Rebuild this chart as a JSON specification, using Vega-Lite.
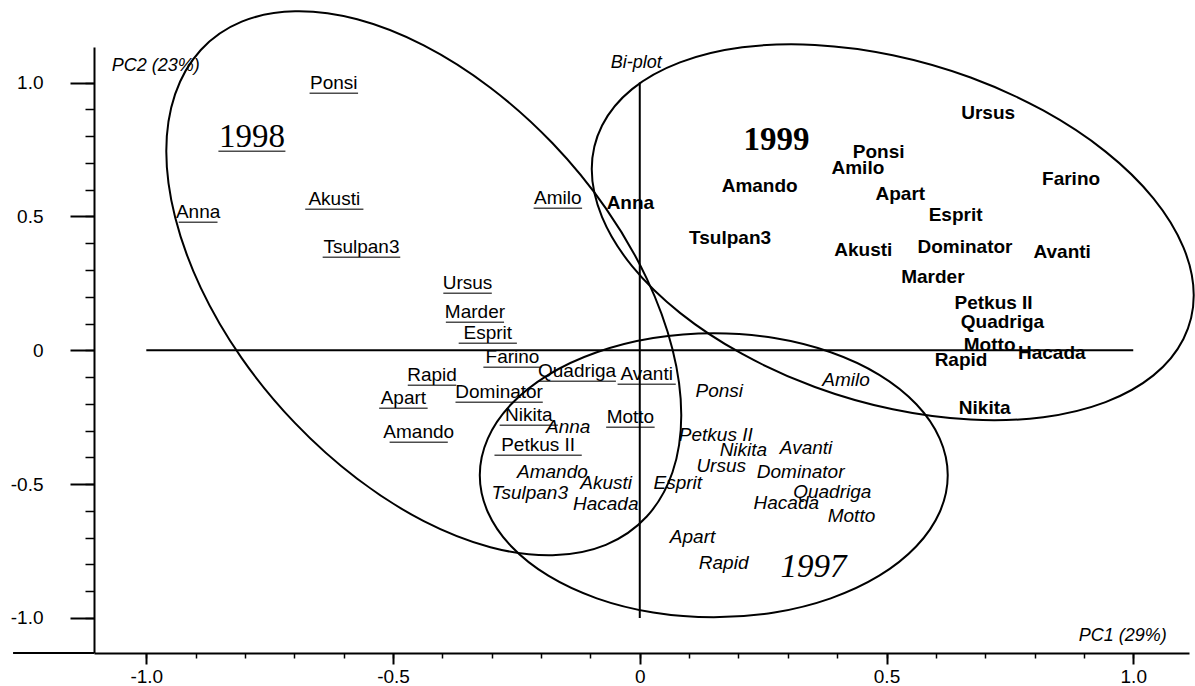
{
  "$schema": "https://vega.github.io/schema/vega-lite/v6.json",
  "width": 1095,
  "height": 606,
  "autosize": {"type": "none"},
  "padding": {"left": 94, "top": 47, "right": 6, "bottom": 33},
  "background": "white",
  "config": {
    "view": {"stroke": null},
    "font": "Liberation Sans",
    "axis": {"grid": false, "domainColor": "black", "tickColor": "black", "labelColor": "black", "labelFont": "Liberation Sans", "labelFontSize": 19, "title": null}
  },
  "datasets": {
    "labels": [
      {"cultivar": "Ponsi", "year": 1998, "pc1": -0.620, "pc2": 0.998},
      {"cultivar": "Akusti", "year": 1998, "pc1": -0.619, "pc2": 0.564},
      {"cultivar": "Anna", "year": 1998, "pc1": -0.895, "pc2": 0.516},
      {"cultivar": "Amilo", "year": 1998, "pc1": -0.166, "pc2": 0.568},
      {"cultivar": "Tsulpan3", "year": 1998, "pc1": -0.564, "pc2": 0.385},
      {"cultivar": "Ursus", "year": 1998, "pc1": -0.349, "pc2": 0.250},
      {"cultivar": "Marder", "year": 1998, "pc1": -0.334, "pc2": 0.142},
      {"cultivar": "Esprit", "year": 1998, "pc1": -0.308, "pc2": 0.064},
      {"cultivar": "Farino", "year": 1998, "pc1": -0.258, "pc2": -0.026},
      {"cultivar": "Rapid", "year": 1998, "pc1": -0.421, "pc2": -0.093},
      {"cultivar": "Quadriga", "year": 1998, "pc1": -0.127, "pc2": -0.078},
      {"cultivar": "Avanti", "year": 1998, "pc1": 0.014, "pc2": -0.090},
      {"cultivar": "Dominator", "year": 1998, "pc1": -0.285, "pc2": -0.157},
      {"cultivar": "Apart", "year": 1998, "pc1": -0.479, "pc2": -0.179},
      {"cultivar": "Nikita", "year": 1998, "pc1": -0.225, "pc2": -0.243},
      {"cultivar": "Motto", "year": 1998, "pc1": -0.019, "pc2": -0.250},
      {"cultivar": "Amando", "year": 1998, "pc1": -0.448, "pc2": -0.306},
      {"cultivar": "Petkus II", "year": 1998, "pc1": -0.206, "pc2": -0.355},
      {"cultivar": "Ursus", "year": 1999, "pc1": 0.706, "pc2": 0.886},
      {"cultivar": "Ponsi", "year": 1999, "pc1": 0.484, "pc2": 0.740},
      {"cultivar": "Amilo", "year": 1999, "pc1": 0.442, "pc2": 0.680},
      {"cultivar": "Farino", "year": 1999, "pc1": 0.874, "pc2": 0.639},
      {"cultivar": "Amando", "year": 1999, "pc1": 0.243, "pc2": 0.613},
      {"cultivar": "Apart", "year": 1999, "pc1": 0.528, "pc2": 0.583},
      {"cultivar": "Anna", "year": 1999, "pc1": -0.019, "pc2": 0.549},
      {"cultivar": "Esprit", "year": 1999, "pc1": 0.640, "pc2": 0.504},
      {"cultivar": "Tsulpan3", "year": 1999, "pc1": 0.183, "pc2": 0.419},
      {"cultivar": "Akusti", "year": 1999, "pc1": 0.453, "pc2": 0.374},
      {"cultivar": "Dominator", "year": 1999, "pc1": 0.659, "pc2": 0.385},
      {"cultivar": "Avanti", "year": 1999, "pc1": 0.856, "pc2": 0.366},
      {"cultivar": "Marder", "year": 1999, "pc1": 0.594, "pc2": 0.273},
      {"cultivar": "Petkus II", "year": 1999, "pc1": 0.717, "pc2": 0.176},
      {"cultivar": "Quadriga", "year": 1999, "pc1": 0.735, "pc2": 0.105},
      {"cultivar": "Motto", "year": 1999, "pc1": 0.709, "pc2": 0.019},
      {"cultivar": "Hacada", "year": 1999, "pc1": 0.835, "pc2": -0.011},
      {"cultivar": "Rapid", "year": 1999, "pc1": 0.651, "pc2": -0.037},
      {"cultivar": "Nikita", "year": 1999, "pc1": 0.699, "pc2": -0.217},
      {"cultivar": "Amilo", "year": 1997, "pc1": 0.418, "pc2": -0.112},
      {"cultivar": "Ponsi", "year": 1997, "pc1": 0.161, "pc2": -0.153},
      {"cultivar": "Anna", "year": 1997, "pc1": -0.145, "pc2": -0.288},
      {"cultivar": "Petkus II", "year": 1997, "pc1": 0.154, "pc2": -0.318},
      {"cultivar": "Nikita", "year": 1997, "pc1": 0.210, "pc2": -0.374},
      {"cultivar": "Avanti", "year": 1997, "pc1": 0.337, "pc2": -0.366},
      {"cultivar": "Ursus", "year": 1997, "pc1": 0.165, "pc2": -0.433},
      {"cultivar": "Dominator", "year": 1997, "pc1": 0.326, "pc2": -0.456},
      {"cultivar": "Amando", "year": 1997, "pc1": -0.177, "pc2": -0.456},
      {"cultivar": "Akusti", "year": 1997, "pc1": -0.068, "pc2": -0.497},
      {"cultivar": "Esprit", "year": 1997, "pc1": 0.077, "pc2": -0.497},
      {"cultivar": "Tsulpan3", "year": 1997, "pc1": -0.223, "pc2": -0.534},
      {"cultivar": "Quadriga", "year": 1997, "pc1": 0.390, "pc2": -0.531},
      {"cultivar": "Hacada", "year": 1997, "pc1": -0.069, "pc2": -0.575},
      {"cultivar": "Hacada", "year": 1997, "pc1": 0.297, "pc2": -0.572},
      {"cultivar": "Motto", "year": 1997, "pc1": 0.429, "pc2": -0.620},
      {"cultivar": "Apart", "year": 1997, "pc1": 0.107, "pc2": -0.699},
      {"cultivar": "Rapid", "year": 1997, "pc1": 0.170, "pc2": -0.796}
    ],
    "years": [
      {"label": "1998", "year": 1998, "pc1": -0.786, "pc2": 0.796},
      {"label": "1999", "year": 1999, "pc1": 0.277, "pc2": 0.785},
      {"label": "1997", "year": 1997, "pc1": 0.352, "pc2": -0.811}
    ],
    "notes": [
      {"text": "PC2 (23%)", "side": "left", "pc1": -1.070, "pc2": 1.061},
      {"text": "Bi-plot", "side": "left", "pc1": -0.059, "pc2": 1.073},
      {"text": "PC1 (29%)", "side": "right", "pc1": 1.068, "pc2": -1.069}
    ],
    "refs": [
      {"pc1": -1.0, "pc1b": 1.0, "pc2": 0.0, "pc2b": 0.0},
      {"pc1": 0.0, "pc1b": 0.0, "pc2": -1.0, "pc2b": 1.0},
      {"pc1": -1.27, "pc1b": -1.106, "pc2": -1.131, "pc2b": -1.131}
    ],
    "ellipses": [
      {"year": 1998, "ord": 1, "pc1": 0.0841, "pc2": -0.2429},
      {"year": 1998, "ord": 2, "pc1": 0.0663, "pc2": -0.4559},
      {"year": 1998, "ord": 3, "pc1": 0.0142, "pc2": -0.6211},
      {"year": 1998, "ord": 4, "pc1": -0.0687, "pc2": -0.7268},
      {"year": 1998, "ord": 5, "pc1": -0.1767, "pc2": -0.7657},
      {"year": 1998, "ord": 6, "pc1": -0.3027, "pc2": -0.7358},
      {"year": 1998, "ord": 7, "pc1": -0.4377, "pc2": -0.6383},
      {"year": 1998, "ord": 8, "pc1": -0.5726, "pc2": -0.4802},
      {"year": 1998, "ord": 9, "pc1": -0.6985, "pc2": -0.2724},
      {"year": 1998, "ord": 10, "pc1": -0.8067, "pc2": -0.0295},
      {"year": 1998, "ord": 11, "pc1": -0.8896, "pc2": 0.2332},
      {"year": 1998, "ord": 12, "pc1": -0.9416, "pc2": 0.4970},
      {"year": 1998, "ord": 13, "pc1": -0.9595, "pc2": 0.7437},
      {"year": 1998, "ord": 14, "pc1": -0.9416, "pc2": 0.9567},
      {"year": 1998, "ord": 15, "pc1": -0.8896, "pc2": 1.1218},
      {"year": 1998, "ord": 16, "pc1": -0.8067, "pc2": 1.2276},
      {"year": 1998, "ord": 17, "pc1": -0.6985, "pc2": 1.2664},
      {"year": 1998, "ord": 18, "pc1": -0.5726, "pc2": 1.2365},
      {"year": 1998, "ord": 19, "pc1": -0.4377, "pc2": 1.1390},
      {"year": 1998, "ord": 20, "pc1": -0.3027, "pc2": 0.9809},
      {"year": 1998, "ord": 21, "pc1": -0.1767, "pc2": 0.7732},
      {"year": 1998, "ord": 22, "pc1": -0.0687, "pc2": 0.5303},
      {"year": 1998, "ord": 23, "pc1": 0.0142, "pc2": 0.2676},
      {"year": 1998, "ord": 24, "pc1": 0.0663, "pc2": 0.0037},
      {"year": 1999, "ord": 1, "pc1": 1.1226, "pc2": 0.2052},
      {"year": 1999, "ord": 2, "pc1": 1.1017, "pc2": 0.0422},
      {"year": 1999, "ord": 3, "pc1": 1.0409, "pc2": -0.0938},
      {"year": 1999, "ord": 4, "pc1": 0.9439, "pc2": -0.1936},
      {"year": 1999, "ord": 5, "pc1": 0.8176, "pc2": -0.2500},
      {"year": 1999, "ord": 6, "pc1": 0.6705, "pc2": -0.2590},
      {"year": 1999, "ord": 7, "pc1": 0.5127, "pc2": -0.2205},
      {"year": 1999, "ord": 8, "pc1": 0.3548, "pc2": -0.1371},
      {"year": 1999, "ord": 9, "pc1": 0.2077, "pc2": -0.0138},
      {"year": 1999, "ord": 10, "pc1": 0.0815, "pc2": 0.1398},
      {"year": 1999, "ord": 11, "pc1": -0.0156, "pc2": 0.3143},
      {"year": 1999, "ord": 12, "pc1": -0.0764, "pc2": 0.4974},
      {"year": 1999, "ord": 13, "pc1": -0.0973, "pc2": 0.6768},
      {"year": 1999, "ord": 14, "pc1": -0.0764, "pc2": 0.8397},
      {"year": 1999, "ord": 15, "pc1": -0.0156, "pc2": 0.9757},
      {"year": 1999, "ord": 16, "pc1": 0.0815, "pc2": 1.0755},
      {"year": 1999, "ord": 17, "pc1": 0.2077, "pc2": 1.1319},
      {"year": 1999, "ord": 18, "pc1": 0.3548, "pc2": 1.1409},
      {"year": 1999, "ord": 19, "pc1": 0.5127, "pc2": 1.1024},
      {"year": 1999, "ord": 20, "pc1": 0.6705, "pc2": 1.0191},
      {"year": 1999, "ord": 21, "pc1": 0.8176, "pc2": 0.8958},
      {"year": 1999, "ord": 22, "pc1": 0.9439, "pc2": 0.7422},
      {"year": 1999, "ord": 23, "pc1": 1.0409, "pc2": 0.5676},
      {"year": 1999, "ord": 24, "pc1": 1.1017, "pc2": 0.3845},
      {"year": 1997, "ord": 1, "pc1": 0.6241, "pc2": -0.4671},
      {"year": 1997, "ord": 2, "pc1": 0.6079, "pc2": -0.6043},
      {"year": 1997, "ord": 3, "pc1": 0.5605, "pc2": -0.7324},
      {"year": 1997, "ord": 4, "pc1": 0.4853, "pc2": -0.8423},
      {"year": 1997, "ord": 5, "pc1": 0.3870, "pc2": -0.9268},
      {"year": 1997, "ord": 6, "pc1": 0.2727, "pc2": -0.9798},
      {"year": 1997, "ord": 7, "pc1": 0.1499, "pc2": -0.9978},
      {"year": 1997, "ord": 8, "pc1": 0.0272, "pc2": -0.9798},
      {"year": 1997, "ord": 9, "pc1": -0.0871, "pc2": -0.9268},
      {"year": 1997, "ord": 10, "pc1": -0.1854, "pc2": -0.8423},
      {"year": 1997, "ord": 11, "pc1": -0.2606, "pc2": -0.7324},
      {"year": 1997, "ord": 12, "pc1": -0.3080, "pc2": -0.6043},
      {"year": 1997, "ord": 13, "pc1": -0.3242, "pc2": -0.4671},
      {"year": 1997, "ord": 14, "pc1": -0.3080, "pc2": -0.3300},
      {"year": 1997, "ord": 15, "pc1": -0.2606, "pc2": -0.2018},
      {"year": 1997, "ord": 16, "pc1": -0.1854, "pc2": -0.0919},
      {"year": 1997, "ord": 17, "pc1": -0.0871, "pc2": -0.0075},
      {"year": 1997, "ord": 18, "pc1": 0.0272, "pc2": 0.0456},
      {"year": 1997, "ord": 19, "pc1": 0.1499, "pc2": 0.0635},
      {"year": 1997, "ord": 20, "pc1": 0.2727, "pc2": 0.0456},
      {"year": 1997, "ord": 21, "pc1": 0.3870, "pc2": -0.0075},
      {"year": 1997, "ord": 22, "pc1": 0.4853, "pc2": -0.0919},
      {"year": 1997, "ord": 23, "pc1": 0.5605, "pc2": -0.2018},
      {"year": 1997, "ord": 24, "pc1": 0.6079, "pc2": -0.3300}
    ]
  },
  "resolve": {"axis": {"x": "independent", "y": "independent"}},
  "layer": [
    {
      "data": {"name": "refs"},
      "mark": {"type": "rule", "color": "black", "strokeWidth": 2},
      "encoding": {
        "x": {"field": "pc1", "type": "quantitative", "scale": {"domain": [-1.106, 1.113], "nice": false, "zero": false},
          "axis": {"orient": "bottom", "values": [-1.0, -0.9, -0.8, -0.7, -0.6, -0.5, -0.4, -0.3, -0.2, -0.1, 0, 0.1, 0.2, 0.3, 0.4, 0.5, 0.6, 0.7, 0.8, 0.9, 1.0], "labels": false, "domain": false, "tickSize": 5, "tickWidth": 1.5}},
        "x2": {"field": "pc1b"},
        "y": {"field": "pc2", "type": "quantitative", "scale": {"domain": [-1.131, 1.133], "nice": false, "zero": false},
          "axis": {"orient": "left", "values": [-1.0, -0.9, -0.8, -0.7, -0.6, -0.5, -0.4, -0.3, -0.2, -0.1, 0, 0.1, 0.2, 0.3, 0.4, 0.5, 0.6, 0.7, 0.8, 0.9, 1.0], "labels": false, "domain": false, "tickSize": 9, "tickWidth": 1.5}},
        "y2": {"field": "pc2b"}
      }
    },
    {
      "data": {"name": "ellipses"},
      "mark": {"type": "line", "interpolate": "cardinal-closed", "color": "black", "strokeWidth": 2},
      "encoding": {
        "x": {"field": "pc1", "type": "quantitative",
          "axis": {"orient": "bottom", "values": [-1.0, -0.5, 0, 0.5, 1.0], "labelExpr": "datum.value == 0 ? '0' : (datum.value < 0 ? '-' : '') + format(abs(datum.value), '.1f')", "domainWidth": 2, "tickSize": 11, "tickWidth": 2, "labelPadding": 3}},
        "y": {"field": "pc2", "type": "quantitative",
          "axis": {"orient": "left", "values": [-1.0, -0.5, 0, 0.5, 1.0], "labelExpr": "datum.value == 0 ? '0' : (datum.value < 0 ? '-' : '') + format(abs(datum.value), '.1f')", "domainWidth": 2, "tickSize": 24, "tickWidth": 2, "labelPadding": 27}},
        "detail": {"field": "year", "type": "nominal"},
        "order": {"field": "ord", "type": "quantitative"}
      }
    },
    {
      "data": {"name": "labels"},
      "transform": [{"filter": "datum.year == 1998"}],
      "mark": {"type": "text", "font": "Liberation Sans", "fontSize": 19, "color": "black", "align": "center", "baseline": "middle"},
      "encoding": {
        "x": {"field": "pc1", "type": "quantitative", "axis": null},
        "y": {"field": "pc2", "type": "quantitative", "axis": null},
        "text": {"field": "cultivar"}
      }
    },
    {
      "data": {"name": "labels"},
      "transform": [{"filter": "datum.year == 1998"}, {"calculate": "length(datum.cultivar)", "as": "chars"}],
      "mark": {"type": "tick", "orient": "horizontal", "color": "black", "thickness": 1.5, "yOffset": 10},
      "encoding": {
        "x": {"field": "pc1", "type": "quantitative", "axis": null},
        "y": {"field": "pc2", "type": "quantitative", "axis": null},
        "size": {"field": "chars", "type": "quantitative", "scale": {"domain": [0, 10], "range": [0, 97]}, "legend": null}
      }
    },
    {
      "data": {"name": "labels"},
      "transform": [{"filter": "datum.year == 1999"}],
      "mark": {"type": "text", "font": "Liberation Sans", "fontSize": 19, "fontWeight": "bold", "color": "black", "align": "center", "baseline": "middle"},
      "encoding": {
        "x": {"field": "pc1", "type": "quantitative", "axis": null},
        "y": {"field": "pc2", "type": "quantitative", "axis": null},
        "text": {"field": "cultivar"}
      }
    },
    {
      "data": {"name": "labels"},
      "transform": [{"filter": "datum.year == 1997"}],
      "mark": {"type": "text", "font": "Liberation Sans", "fontSize": 19, "fontStyle": "italic", "color": "black", "align": "center", "baseline": "middle"},
      "encoding": {
        "x": {"field": "pc1", "type": "quantitative", "axis": null},
        "y": {"field": "pc2", "type": "quantitative", "axis": null},
        "text": {"field": "cultivar"}
      }
    },
    {
      "data": {"name": "years"},
      "transform": [{"filter": "datum.year == 1998"}],
      "mark": {"type": "text", "font": "Liberation Serif", "fontSize": 33, "color": "black", "align": "center", "baseline": "middle"},
      "encoding": {
        "x": {"field": "pc1", "type": "quantitative", "axis": null},
        "y": {"field": "pc2", "type": "quantitative", "axis": null},
        "text": {"field": "label"}
      }
    },
    {
      "data": {"name": "years"},
      "transform": [{"filter": "datum.year == 1998"}],
      "mark": {"type": "tick", "orient": "horizontal", "color": "black", "thickness": 1.5, "yOffset": 14, "size": 67},
      "encoding": {
        "x": {"field": "pc1", "type": "quantitative", "axis": null},
        "y": {"field": "pc2", "type": "quantitative", "axis": null}
      }
    },
    {
      "data": {"name": "years"},
      "transform": [{"filter": "datum.year == 1999"}],
      "mark": {"type": "text", "font": "Liberation Serif", "fontSize": 33, "fontWeight": "bold", "color": "black", "align": "center", "baseline": "middle"},
      "encoding": {
        "x": {"field": "pc1", "type": "quantitative", "axis": null},
        "y": {"field": "pc2", "type": "quantitative", "axis": null},
        "text": {"field": "label"}
      }
    },
    {
      "data": {"name": "years"},
      "transform": [{"filter": "datum.year == 1997"}],
      "mark": {"type": "text", "font": "Liberation Serif", "fontSize": 33, "fontStyle": "italic", "color": "black", "align": "center", "baseline": "middle"},
      "encoding": {
        "x": {"field": "pc1", "type": "quantitative", "axis": null},
        "y": {"field": "pc2", "type": "quantitative", "axis": null},
        "text": {"field": "label"}
      }
    },
    {
      "data": {"name": "notes"},
      "transform": [{"filter": "datum.side == 'left'"}],
      "mark": {"type": "text", "font": "Liberation Sans", "fontSize": 18, "fontStyle": "italic", "color": "black", "align": "left", "baseline": "middle"},
      "encoding": {
        "x": {"field": "pc1", "type": "quantitative", "axis": null},
        "y": {"field": "pc2", "type": "quantitative", "axis": null},
        "text": {"field": "text"}
      }
    },
    {
      "data": {"name": "notes"},
      "transform": [{"filter": "datum.side == 'right'"}],
      "mark": {"type": "text", "font": "Liberation Sans", "fontSize": 18, "fontStyle": "italic", "color": "black", "align": "right", "baseline": "middle"},
      "encoding": {
        "x": {"field": "pc1", "type": "quantitative", "axis": null},
        "y": {"field": "pc2", "type": "quantitative", "axis": null},
        "text": {"field": "text"}
      }
    }
  ]
}
